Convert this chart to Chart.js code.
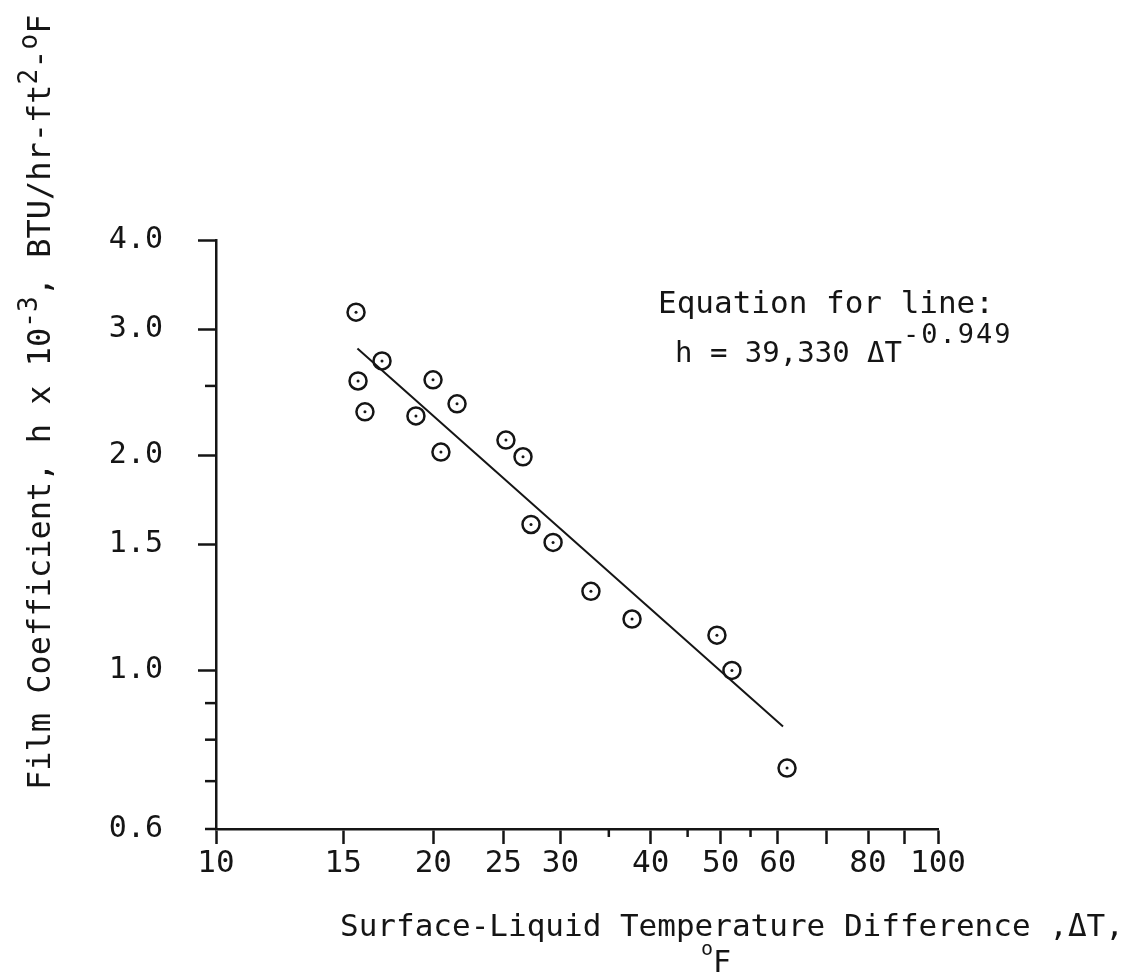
<!DOCTYPE html>
<html>
<head>
<meta charset="utf-8">
<script src="https://cdn.jsdelivr.net/npm/chart.js@4/dist/chart.umd.min.js"></script>
<style>
  html, body { margin: 0; padding: 0; background: #ffffff; overflow: hidden; }
  #wrap { width: 1145px; height: 974px; }
</style>
</head>
<body>
<div id="wrap"><canvas id="c" width="1145" height="974"></canvas></div>
<script>
// ---- data ----
const deltaT = [15.63, 16.98, 15.73, 16.08, 19.98, 18.92, 21.57, 20.49, 25.21, 26.62, 27.31, 29.30, 33.06, 37.69, 49.41, 51.83, 61.79];
const filmCoeff = [3.17, 2.71, 2.54, 2.30, 2.55, 2.27, 2.36, 2.02, 2.10, 1.99, 1.60, 1.51, 1.29, 1.18, 1.12, 1.00, 0.73];
const fitLineX = [15.7, 61.0];
const fitLineY = [2.82, 0.835];

const xTickValues = [10, 15, 20, 25, 30, 35, 40, 45, 50, 55, 60, 70, 80, 90, 100];
const xTickLabels = ['10', '15', '20', '25', '30', '', '40', '', '50', '', '60', '', '80', '', '100'];
const xShortTicks = [35, 45, 55];
const yTickValues = [0.6, 0.7, 0.8, 0.9, 1.0, 1.5, 2.0, 2.5, 3.0, 4.0];
const yTickLabels = ['0.6', '', '', '', '1.0', '1.5', '2.0', '', '3.0', '4.0'];
const yShortTicks = [0.6, 0.7, 0.8, 0.9, 2.5];

const xTitle = 'Surface-Liquid Temperature Difference ,\u0394T,';
const xTitleUnit = ['o', 'F'];
const yTitleParts = [['Film Coefficient, h x 10', 0], ['-3', 1], [', BTU/hr-ft', 0], ['2', 1], ['-', 0], ['o', 1], ['F', 0]];
const eqLine1 = 'Equation for line:';
const eqLine2 = 'h = 39,330 \u0394T';
const eqExponent = '-0.949';

const INK = '#151515';
const FONT = '"DejaVu Sans Mono", monospace';

const scatterPoints = deltaT.map((x, i) => ({ x: x, y: filmCoeff[i] }));
const linePoints = fitLineX.map((x, i) => ({ x: x, y: fitLineY[i] }));

function labelFor(values, labels, v) {
  const i = values.findIndex(t => Math.abs(t - v) < 1e-9);
  return i >= 0 ? labels[i] : '';
}
function isShort(list, v) { return list.some(t => Math.abs(t - v) < 1e-9); }

const extrasPlugin = {
  id: 'extras',
  afterDraw(chart) {
    const ctx = chart.ctx;
    const xs = chart.scales.x, ys = chart.scales.y;
    const area = chart.chartArea;
    ctx.save();
    ctx.strokeStyle = INK;
    ctx.lineWidth = 2.5;
    // short tick marks
    xShortTicks.forEach(v => {
      const px = xs.getPixelForValue(v);
      ctx.beginPath(); ctx.moveTo(px, area.bottom); ctx.lineTo(px, area.bottom + 8); ctx.stroke();
    });
    yShortTicks.forEach(v => {
      const py = ys.getPixelForValue(v);
      ctx.beginPath(); ctx.moveTo(area.left, py); ctx.lineTo(area.left - 11, py); ctx.stroke();
    });

    ctx.fillStyle = INK;
    ctx.textBaseline = 'alphabetic';
    ctx.textAlign = 'left';

    // equation
    ctx.font = '31px ' + FONT;
    ctx.fillText(eqLine1, 658, 313);
    ctx.font = '29px ' + FONT;
    ctx.fillText(eqLine2, 675, 362);
    const w2 = ctx.measureText(eqLine2).width;
    ctx.save();
    ctx.font = '27px ' + FONT;
    if ('letterSpacing' in ctx) ctx.letterSpacing = '2px';
    ctx.fillText(eqExponent, 675 + w2 + 1, 343);
    ctx.restore();

    // x title
    ctx.font = '31px ' + FONT;
    ctx.fillText(xTitle, 340, 936);
    ctx.font = '20px ' + FONT;
    ctx.fillText(xTitleUnit[0], 701, 955);
    ctx.font = '30px ' + FONT;
    ctx.fillText(xTitleUnit[1], 713, 972);

    // y title (rotated)
    ctx.translate(50, 790);
    ctx.rotate(-Math.PI / 2);
    let cx = 0;
    yTitleParts.forEach(([txt, sup]) => {
      ctx.font = (sup ? '26px ' : '32px ') + FONT;
      ctx.fillText(txt, cx, sup ? -13 : 0);
      cx += ctx.measureText(txt).width;
    });
    ctx.restore();
  }
};

new Chart(document.getElementById('c'), {
  data: {
    datasets: [
      {
        type: 'line',
        data: linePoints,
        borderColor: INK,
        borderWidth: 2,
        pointRadius: 0,
        fill: false,
        tension: 0
      },
      {
        type: 'scatter',
        data: scatterPoints,
        pointStyle: 'circle',
        pointRadius: 8.5,
        pointBorderWidth: 2.5,
        pointBorderColor: INK,
        pointBackgroundColor: 'rgba(255,255,255,0)'
      },
      {
        type: 'scatter',
        data: scatterPoints,
        pointStyle: 'circle',
        pointRadius: 1.5,
        pointBorderWidth: 0,
        pointBackgroundColor: INK
      }
    ]
  },
  options: {
    responsive: false,
    devicePixelRatio: 1,
    animation: false,
    layout: { padding: { top: 240, right: 207, left: 0, bottom: 0 } },
    plugins: { legend: { display: false }, tooltip: { enabled: false } },
    scales: {
      x: {
        type: 'logarithmic',
        min: 10, max: 100,
        position: 'bottom',
        afterBuildTicks: s => { s.ticks = xTickValues.map(v => ({ value: v, major: true })); },
        afterFit: s => { s.height = 145; },
        ticks: {
          autoSkip: false, maxRotation: 0, minRotation: 0,
          color: INK, padding: 1,
          font: { family: FONT, size: 31 },
          callback: v => labelFor(xTickValues, xTickLabels, v)
        },
        grid: {
          display: true, drawOnChartArea: false, drawTicks: true,
          tickLength: 15, tickWidth: 2.5,
          tickColor: c => (c.tick && isShort(xShortTicks, c.tick.value)) ? 'rgba(0,0,0,0)' : INK
        },
        border: { display: true, color: INK, width: 2.5 }
      },
      y: {
        type: 'logarithmic',
        min: 0.6, max: 4.0,
        position: 'left',
        afterBuildTicks: s => { s.ticks = yTickValues.map(v => ({ value: v, major: true })); },
        afterFit: s => { s.width = 216; },
        ticks: {
          autoSkip: false, color: INK, padding: 35,
          font: { family: FONT, size: 30 },
          callback: v => labelFor(yTickValues, yTickLabels, v)
        },
        grid: {
          display: true, drawOnChartArea: false, drawTicks: true,
          tickLength: 18, tickWidth: 2.5,
          tickColor: c => (c.tick && isShort(yShortTicks, c.tick.value)) ? 'rgba(0,0,0,0)' : INK
        },
        border: { display: true, color: INK, width: 2.5 }
      }
    }
  },
  plugins: [extrasPlugin]
});
</script>
</body>
</html>
